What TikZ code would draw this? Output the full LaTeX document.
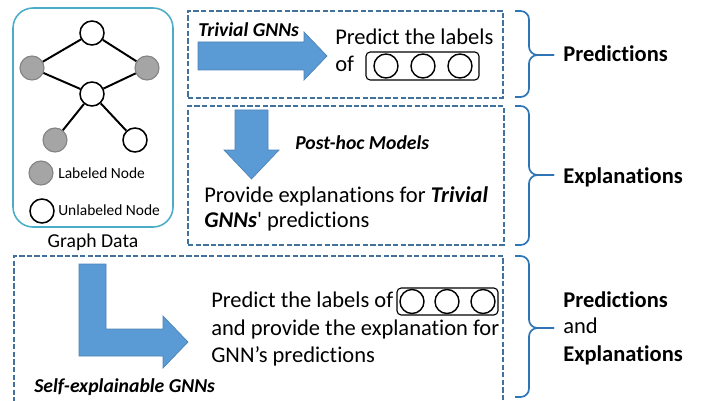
\documentclass[tikz,border=0pt]{standalone}
\usepackage{fontspec}
\defaultfontfeatures[\rmfamily]{}
\setmainfont{Carlito}[Ligatures=NoCommon]
\usepackage{tikz}
\usetikzlibrary{fit}

\definecolor{dashblue}{RGB}{65,113,156}
\definecolor{braceblue}{RGB}{46,117,182}
\definecolor{arrowblue}{RGB}{91,155,213}
\definecolor{graphteal}{RGB}{75,172,198}
\definecolor{nodegray}{RGB}{165,165,165}

\begin{document}
\begin{tikzpicture}[
    x=0.025cm, y=-0.025cm,
    txt/.style={anchor=base west, inner sep=0pt, font=\fontsize{16}{19}\selectfont},
    tag/.style={anchor=base west, inner sep=0pt, font=\fontsize{14}{17}\selectfont\bfseries\itshape},
    keytxt/.style={anchor=base west, inner sep=0pt, font=\fontsize{11}{13}\selectfont},
    stagebox/.style={draw=dashblue, line width=1.1pt, dash pattern=on 3.8pt off 1.6pt, inner sep=0pt},
    graphbox/.style={draw=graphteal, line width=1.1pt, rounded corners=0.5cm, inner sep=0pt},
    labeled/.style={circle, fill=nodegray, draw=nodegray!80!black, line width=0.8pt, minimum size=0.6cm, inner sep=0pt},
    unlabeled/.style={circle, fill=white, draw=black, line width=1.1pt, minimum size=0.6cm, inner sep=0pt},
    slot/.style={circle, draw=black, line width=1pt, minimum size=0.6cm, inner sep=0pt},
    slotbox/.style={draw=black, line width=0.8pt, rounded corners=3pt, inner sep=0pt},
    fatarrow/.style={fill=arrowblue, draw=arrowblue!85!black, line width=0.5pt},
    bracket/.style={draw=braceblue, line width=1.2pt, rounded corners=6pt},
    edge/.style={line width=1.4pt}
]
\useasboundingbox (0,0) rectangle (701,400);
\clip (0,0) rectangle (701,400);

% graph data
\node[graphbox, fit={(13,8) (173,227)}] (graph) {};
\node[unlabeled] (top) at (92,33) {};
\node[labeled] (left) at (32,68) {};
\node[labeled] (right) at (147,68) {};
\node[unlabeled] (mid) at (92,94) {};
\node[labeled] (lowleft) at (55,140) {};
\node[unlabeled] (lowright) at (135,140) {};
\draw[edge] (top) -- (left);
\draw[edge] (top) -- (right);
\draw[edge] (left) -- (mid);
\draw[edge] (right) -- (mid);
\draw[edge] (mid) -- (lowleft);
\draw[edge] (mid) -- (lowright);
\node[labeled] (keylab) at (41,173) {};
\node[keytxt] (keylabtxt) at (58,178) {Labeled Node};
\node[unlabeled] (keyunl) at (42,211) {};
\node[keytxt] (keyunltxt) at (58,215) {Unlabeled Node};
\node[anchor=base, inner sep=0pt, font=\fontsize{14}{17}\selectfont] (graphlbl) at (93,247) {Graph Data};

% stages
\node[stagebox, fit={(188,11) (503,98)}] (trivial) {};
\node[stagebox, fit={(188,106) (504,245)}] (posthoc) {};
\node[stagebox, fit={(14,256) (503,420)}] (selfexp) {};

% trivial GNNs
\path[fatarrow] (198,42) -- (304,42) -- (304,32) -- (327,56) -- (304,80) -- (304,70) -- (198,70) -- cycle;
\node[tag] (trivtag) at (198,37) {Trivial GNNs};
\node[txt] (pred1) at (335,45) {Predict the labels};
\node[txt] (pred1b) at (335,72) {of};
\node[slotbox, fit={(366,52) (479,80)}] (slots1) {};
\foreach \cx in {386,423,460}
    \node[slot] (s1\cx) at (\cx,66) {};

% post-hoc models
\path[fatarrow] (235,110) -- (268,110) -- (268,150) -- (279,150) -- (251.5,179) -- (224,150) -- (235,150) -- cycle;
\node[tag] (phtag) at (295,150) {Post-hoc Models};
\node[txt] (expl1) at (204,202) {Provide explanations for \textbf{\textit{Trivial}}};
\node[txt] (expl2) at (204,227) {\textbf{\textit{GNNs}}' predictions};

% self-explainable GNNs
\path[fatarrow] (79,264) -- (106,264) -- (106,329) -- (163,329) -- (163,316) -- (188,342) -- (163,368) -- (163,356) -- (79,356) -- cycle;
\node[tag] (setag) at (34,392) {Self-explainable GNNs};
\node[txt] (self1) at (211,307) {Predict the labels of};
\node[slotbox, fit={(397,288) (498,315)}] (slots3) {};
\foreach \cx in {412,447,483}
    \node[slot] (s3\cx) at (\cx,301.5) {};
\node[txt] (self2) at (211,335) {and provide the explanation for};
\node[txt] (self3) at (211,362) {GNN’s predictions};

% braces
\foreach \ya/\ym/\yb in {11/55/97, 106/175/245, 256/328/397} {
    \draw[bracket] (515,\ya) -- (529,\ya) -- (529,\ym) -- (554,\ym);
    \draw[bracket] (554,\ym) -- (529,\ym) -- (529,\yb) -- (515,\yb);
}
\node[txt, font=\fontsize{16}{19}\selectfont\bfseries] (outpred) at (563,62) {Predictions};
\node[txt, font=\fontsize{16}{19}\selectfont\bfseries] (outexpl) at (563,183) {Explanations};
\node[txt, font=\fontsize{16}{19}\selectfont\bfseries] (outboth1) at (563,307) {Predictions};
\node[txt] (outboth2) at (563,333) {and};
\node[txt, font=\fontsize{16}{19}\selectfont\bfseries] (outboth3) at (563,361) {Explanations};
\end{tikzpicture}
\end{document}
